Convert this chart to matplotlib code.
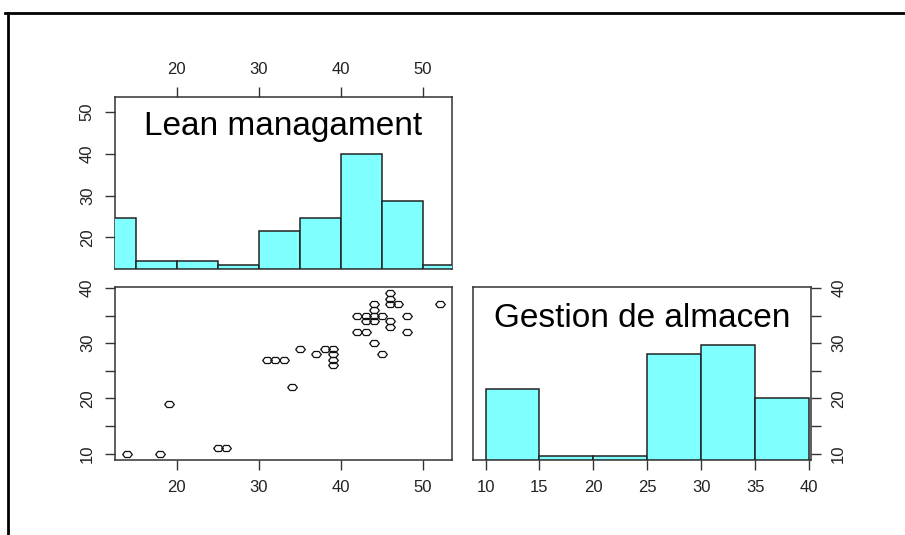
import matplotlib
matplotlib.use("Agg")
import matplotlib.pyplot as plt
from matplotlib.lines import Line2D
import numpy as np

plt.rcParams['font.family'] = ['Liberation Sans', 'DejaVu Sans']

# Scatter points (Lean managament vs Gestion de almacen)
lean = [14, 18, 19, 25, 26, 31, 32, 33, 34, 35, 37, 38, 39, 39, 39, 39,
        42, 42, 43, 43, 43, 44, 44, 44, 44, 44, 45, 45,
        46, 46, 46, 46, 46, 47, 48, 48, 52]
gestion = [10, 10, 19, 11, 11, 27, 27, 27, 22, 29, 28, 29, 29, 28, 27, 26,
           35, 32, 35, 34, 32, 37, 36, 35, 34, 30, 35, 28,
           39, 38, 37, 34, 33, 37, 35, 32, 37]

# Histogram counts (many points overlap in the scatter)
lean_breaks = [10, 15, 20, 25, 30, 35, 40, 45, 50, 55]
lean_counts = [12, 2, 2, 1, 9, 12, 27, 16, 1]
gest_breaks = [10, 15, 20, 25, 30, 35, 40]
gest_counts = [16, 1, 1, 24, 26, 14]

lean_ticks = [20, 30, 40, 50]
gest_ticks = [10, 15, 20, 25, 30, 35, 40]
gest_labels = ['10', '', '20', '', '30', '', '40']


def rlim(v):
    lo, hi = min(v), max(v)
    pad = 0.04 * (hi - lo)
    return lo - pad, hi + pad


lean_lim = rlim(lean)
gest_lim = rlim(gestion)

W, H = 905, 535
fig = plt.figure(figsize=(W / 100, H / 100), dpi=100)


def px(x0, y0, x1, y1):
    return [x0 / W, 1 - y1 / H, (x1 - x0) / W, (y1 - y0) / H]


tick_kw = dict(direction='out', length=7.5, width=1, color='#333333',
               labelsize=12, labelcolor='#222222', pad=7)

hexa = [(-1, 0), (-0.5, 0.62), (0.5, 0.62), (1, 0), (0.5, -0.62), (-0.5, -0.62), (-1, 0)]


def style_box(ax):
    for s in ax.spines.values():
        s.set_color('#333333')
        s.set_linewidth(1.1)


def rotate_y(ax):
    for lbl in ax.get_yticklabels():
        lbl.set_rotation(90)
        lbl.set_va('center')


def hist_bars(ax, breaks, counts):
    axh = ax.twinx()
    axh.set_ylim(0, 1.5)
    axh.set_yticks([])
    for s in axh.spines.values():
        s.set_visible(False)
    c = np.array(counts, dtype=float)
    axh.bar(breaks[:-1], c / c.max(), width=np.diff(breaks), align='edge',
            color='#80ffff', edgecolor='#222222', linewidth=1.1)
    return axh


# Top-left: Lean managament histogram
ax1 = fig.add_axes(px(115, 97, 452, 269))
ax1.set_xlim(lean_lim)
ax1.set_ylim(lean_lim)
ax1h = hist_bars(ax1, lean_breaks, lean_counts)
ax1.xaxis.tick_top()
ax1.yaxis.tick_left()
ax1.set_xticks(lean_ticks)
ax1.set_yticks(lean_ticks)
ax1.tick_params(**tick_kw)
rotate_y(ax1)
style_box(ax1)
ax1h.text(0.5, 0.83, 'Lean managament', transform=ax1h.transAxes,
          ha='center', va='center', fontsize=24)

# Bottom-left: scatter
ax2 = fig.add_axes(px(115, 287, 452, 460))
ax2.plot(lean, gestion, linestyle='none', marker=hexa, markersize=7,
         markerfacecolor='none', markeredgecolor='#111111', markeredgewidth=0.9)
ax2.set_xlim(lean_lim)
ax2.set_ylim(gest_lim)
ax2.set_xticks(lean_ticks)
ax2.set_yticks(gest_ticks)
ax2.set_yticklabels(gest_labels)
ax2.tick_params(**tick_kw)
rotate_y(ax2)
style_box(ax2)

# Bottom-right: Gestion de almacen histogram
ax3 = fig.add_axes(px(473, 287, 811, 460))
ax3.set_xlim(gest_lim)
ax3.set_ylim(gest_lim)
ax3h = hist_bars(ax3, gest_breaks, gest_counts)
ax3.set_xticks(gest_ticks)
ax3.yaxis.tick_right()
ax3.set_yticks(gest_ticks)
ax3.set_yticklabels(gest_labels)
ax3.tick_params(**tick_kw)
rotate_y(ax3)
style_box(ax3)
ax3h.text(0.5, 0.82, 'Gestion de almacen', transform=ax3h.transAxes,
          ha='center', va='center', fontsize=24)

# Outer frame (top and left edges of the screenshot)
fig.add_artist(Line2D([5 / W, 1], [1 - 13 / H, 1 - 13 / H], color='black', lw=2))
fig.add_artist(Line2D([8 / W, 8 / W], [0, 1 - 13 / H], color='black', lw=2))

fig.savefig('out.png', dpi=100, facecolor='white')
